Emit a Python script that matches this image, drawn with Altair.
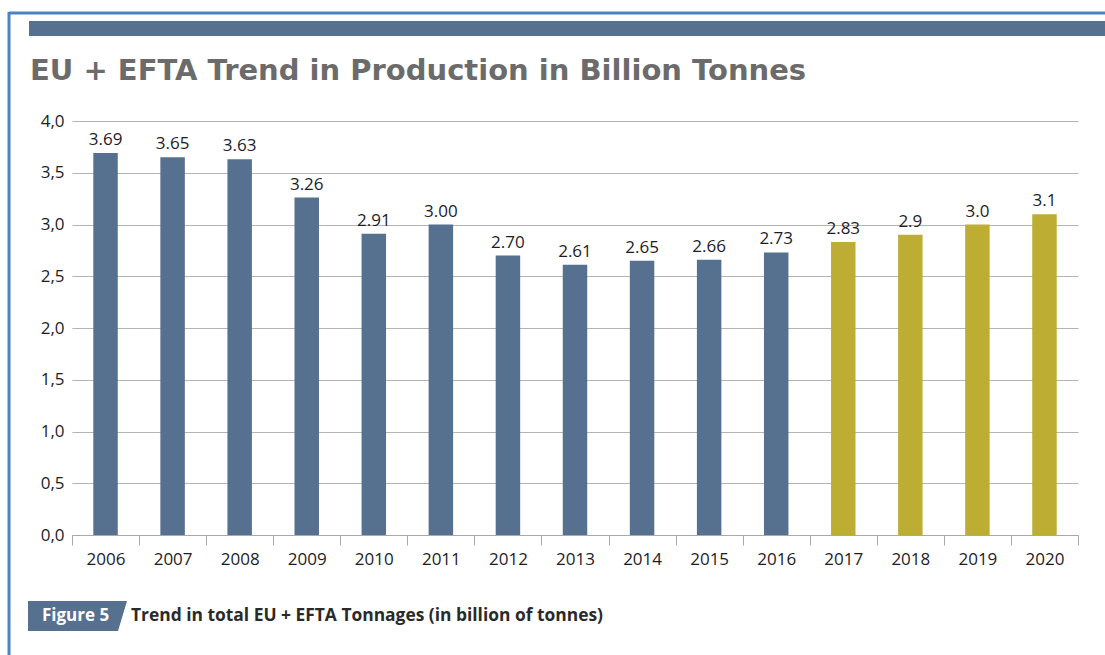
import altair as alt
import pandas as pd

# Production series (billion tonnes); 2017-2020 are forecasts
years = ["2006", "2007", "2008", "2009", "2010", "2011", "2012", "2013",
         "2014", "2015", "2016", "2017", "2018", "2019", "2020"]
labels = ["3.69", "3.65", "3.63", "3.26", "2.91", "3.00", "2.70", "2.61",
          "2.65", "2.66", "2.73", "2.83", "2.9", "3.0", "3.1"]
kinds = ["actual"] * 11 + ["forecast"] * 4
y_ticks = [0, 0.5, 1, 1.5, 2, 2.5, 3, 3.5, 4]

title_text = "EU + EFTA Trend in Production in Billion Tonnes"
figure_tag = "Figure 5"
caption_text = "Trend in total EU + EFTA Tonnages (in billion of tonnes)"

df = pd.DataFrame({
    "year": years,
    "value": [float(v) for v in labels],
    "label": labels,
    "kind": kinds,
})

BLUE = "#56708f"
OLIVE = "#bdae33"
FRAME = "#4d82c4"
FONT = "Open Sans"
TEXT = "#1c1c28"

W, H = 1006, 414
one = alt.Data(values=[{}])

x_enc = alt.X(
    "year:N", sort=years, title=None,
    scale=alt.Scale(paddingInner=0, paddingOuter=0),
    axis=alt.Axis(labelAngle=0, labelFont=FONT, labelFontSize=17,
                  labelColor=TEXT, labelPadding=6, tickBand="extent",
                  tickSize=10, tickColor="#a8a8a8", domainColor="#a8a8a8",
                  grid=False),
)
y_enc = alt.Y(
    "value:Q", title=None,
    scale=alt.Scale(domain=[0, 4], nice=False),
    axis=alt.Axis(values=y_ticks, labelFont=FONT, labelFontSize=17,
                  labelColor=TEXT, labelPadding=8, ticks=False, domain=False,
                  gridColor="#b4b4b4", gridWidth=1,
                  labelExpr="replace(format(datum.value, '.1f'), '.', ',')"),
)

bars = alt.Chart(df).mark_bar(width=alt.RelativeBandSize(0.365)).encode(
    x=x_enc, y=y_enc,
    color=alt.Color("kind:N", scale=alt.Scale(domain=["actual", "forecast"],
                                              range=[BLUE, OLIVE]),
                    legend=None),
)

values = alt.Chart(df).mark_text(
    baseline="bottom", dy=-4, font=FONT, fontSize=17, color=TEXT
).encode(x=alt.X("year:N", sort=years), y="value:Q", text="label:N")

# frame lines and header band
frame_top = alt.Chart(one).mark_rule(color=FRAME, strokeWidth=3).encode(
    x=alt.value(-63), x2=alt.value(1040), y=alt.value(-108))
frame_left = alt.Chart(one).mark_rule(color=FRAME, strokeWidth=3).encode(
    x=alt.value(-63), y=alt.value(-109), y2=alt.value(540))
header = alt.Chart(one).mark_rect(color=BLUE).encode(
    x=alt.value(-43), x2=alt.value(1040), y=alt.value(-100), y2=alt.value(-85))

title = alt.Chart(one).mark_text(
    align="left", baseline="alphabetic", font="DejaVu Sans",
    fontWeight="bold", fontSize=29, color="#6b6b6b"
).encode(x=alt.value(-42), y=alt.value(-41), text=alt.value(title_text))

# caption: slanted tag + text
tag = alt.Chart(one).mark_point(
    shape="M-1,-0.303L1,-0.303L0.818,0.303L-1,0.303Z",
    filled=True, opacity=1, color=BLUE, size=9801, strokeWidth=0
).encode(x=alt.value(77.5 - 72), y=alt.value(616 - 121))
tag_text = alt.Chart(one).mark_text(
    align="left", baseline="middle", font=FONT, fontWeight="bold",
    fontSize=17, color="white"
).encode(x=alt.value(42 - 72), y=alt.value(616 - 121), text=alt.value(figure_tag))
caption = alt.Chart(one).mark_text(
    align="left", baseline="middle", font=FONT, fontWeight="bold",
    fontSize=17.4, color="#2a2a2a"
).encode(x=alt.value(131 - 72), y=alt.value(616 - 121), text=alt.value(caption_text))

chart = alt.layer(
    bars, values, frame_top, frame_left, header, title, tag, tag_text, caption
).properties(
    width=W, height=H,
    background="white",
    autosize=alt.AutoSizeParams(type="none"),
    padding={"left": 72, "top": 121, "right": 27, "bottom": 120},
).configure_view(stroke=None)

chart.save("out.html", embed_options={"renderer": "svg", "actions": False})
